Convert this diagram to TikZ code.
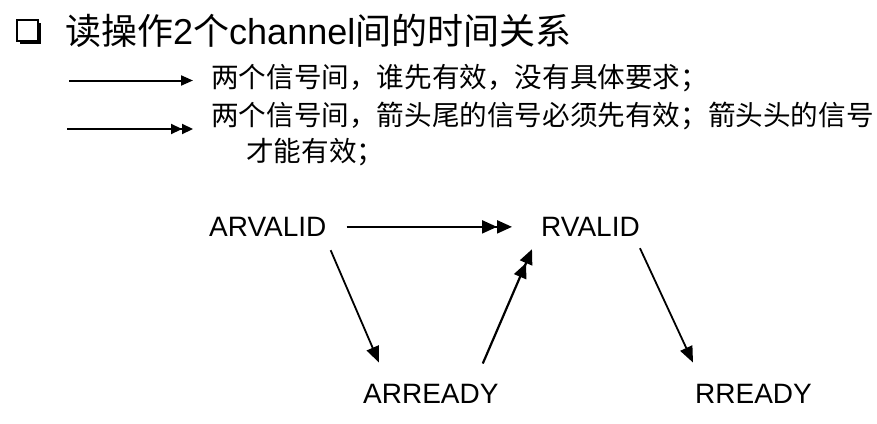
\documentclass[tikz,border=0pt]{standalone}
\usepackage{fontspec}
\setmainfont{Liberation Sans}
\newfontfamily\cjk{Noto Sans CJK SC}
\usetikzlibrary{arrows.meta}

\tikzset{
  sig/.style={inner sep=0pt, anchor=base west, font=\fontsize{28pt}{30pt}\selectfont},
  legendtext/.style={inner sep=0pt, anchor=base west, font=\fontsize{27.6pt}{30pt}\selectfont\cjk},
  headtext/.style={inner sep=0pt, anchor=base west, font=\fontsize{36pt}{40pt}\selectfont},
  anyorder/.style={line width=2pt, -{Triangle[length=12pt,width=10pt]}},
  mustfirst/.style={line width=2.2pt, -{Triangle[length=11pt,width=10pt]Triangle[length=11pt,width=10pt]}},
  conn/.style={line width=1.8pt, -{Triangle[length=16pt,width=13pt]}},
  connfirst/.style={line width=2.2pt, -{Triangle[length=15pt,width=13pt]Triangle[length=15pt,width=13pt]}},
}

\begin{document}
\begin{tikzpicture}[x=1pt, y=-1pt]
  \useasboundingbox (0,0) rectangle (877,423);

  % bullet box with drop shadow
  \fill[black] (20,23) rectangle (41,44);
  \filldraw[fill=white, draw=black, line width=2pt] (17,20) rectangle (38,41);

  % heading
  \node[headtext] (title) at (65,44)
    {{\cjk 读操作}2{\cjk 个}channel{\cjk 间的时间关系}};

  % legend
  \coordinate (la1) at (69,80.5);
  \coordinate (lb1) at (193,80.5);
  \coordinate (la2) at (67,129);
  \coordinate (lb2) at (193,129);
  \draw[anyorder] (la1) -- (lb1);
  \draw[mustfirst] (la2) -- (lb2);
  \node[legendtext] (leg1) at (211,87.5) {两个信号间，谁先有效，没有具体要求；};
  \node[legendtext] (leg2) at (211,125.5) {两个信号间，箭头尾的信号必须先有效；箭头头的信号};
  \node[legendtext] (leg3) at (246,161) {才能有效；};

  % signals
  \node[sig] (arvalid) at (209,236.5) {ARVALID};
  \node[sig] (rvalid)  at (541,236.5) {RVALID};
  \node[sig] (arready) at (363,403) {ARREADY};
  \node[sig] (rready)  at (695,403) {RREADY};

  % dependencies
  \draw[connfirst] ([xshift=20pt]arvalid.east) -- ([xshift=-29pt]rvalid.west);
  \draw[conn] ([shift={(4,13.5)}]arvalid.south east) -- ([shift={(16,-21)}]arready.north west);
  \draw[connfirst] ([shift={(-16,-20)}]arready.north east) -- ([shift={(-9,12.5)}]rvalid.south west);
  \draw[conn] ([shift={(0,11.5)}]rvalid.south east) -- ([shift={(-2,-21)}]rready.north west);
\end{tikzpicture}
\end{document}
